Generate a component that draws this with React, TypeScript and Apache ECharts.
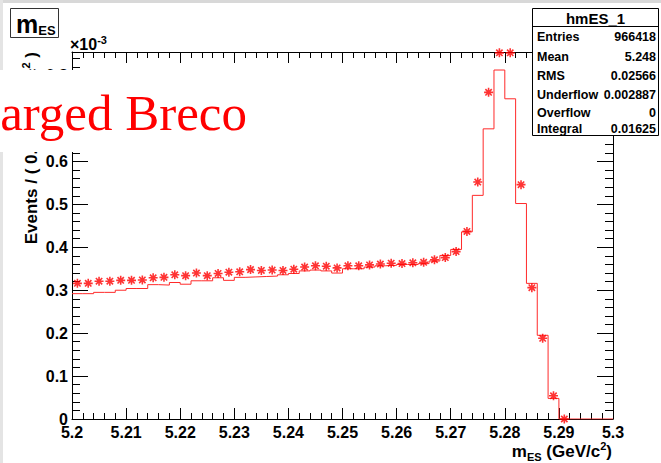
import React, { useEffect, useRef } from "react";
import * as echarts from "echarts";

// m_ES histogram, 50 bins of 0.002 GeV/c^2 from 5.20 to 5.30 (values in units of 1e-3)
const BIN_LO = 5.2;
const BIN_WIDTH = 0.002;

// solid step histogram
const histValues = [
  0.292, 0.292, 0.295, 0.295, 0.3, 0.304, 0.304, 0.313, 0.312, 0.318,
  0.314, 0.322, 0.322, 0.329, 0.323, 0.33, 0.331, 0.332, 0.333, 0.336,
  0.339, 0.345, 0.347, 0.345, 0.34, 0.35, 0.35, 0.354, 0.357, 0.358,
  0.36, 0.36, 0.362, 0.368, 0.381, 0.395, 0.436, 0.521, 0.676, 0.813,
  0.746, 0.502, 0.316, 0.195, 0.048, 0, 0, 0, 0, 0,
];

// star markers, one per bin from 5.201 to 5.291
const markerValues = [
  0.316, 0.316, 0.321, 0.321, 0.323, 0.323, 0.324, 0.329, 0.33, 0.336,
  0.334, 0.34, 0.334, 0.339, 0.342, 0.343, 0.348, 0.346, 0.347, 0.346,
  0.349, 0.354, 0.357, 0.356, 0.352, 0.357, 0.357, 0.359, 0.361, 0.363,
  0.362, 0.364, 0.365, 0.371, 0.376, 0.39, 0.437, 0.552, 0.761, 0.853,
  0.853, 0.546, 0.306, 0.188, 0.054, 0.0,
];

const statsTitle = "hmES_1";
const statsLabels = ["Entries", "Mean", "RMS", "Underflow", "Overflow", "Integral"];
const statsValues = ["966418", "5.248", "0.02566", "0.002887", "0", "0.01625"];

const X_MIN = 5.2;
const X_MAX = 5.3;
const X_STEP = 0.01;
const Y_MIN = 0;
const Y_MAX = 0.855;
const Y_STEP = 0.1;

const SANS = "'Liberation Sans', Arial, Helvetica, sans-serif";
const SERIF = "'Liberation Serif', 'Times New Roman', serif";

const STAR =
  "path://M5 0L5 10M0 5L10 5M1.46 1.46L8.54 8.54M1.46 8.54L8.54 1.46";

export default function App() {
  const ref = useRef<HTMLDivElement>(null);

  useEffect(() => {
    if (!ref.current) return;
    const chart = echarts.init(ref.current, undefined, { renderer: "svg" });

    const stepData: [number, number][] = histValues.map((v, i) => [
      +(BIN_LO + i * BIN_WIDTH).toFixed(4),
      v,
    ]);
    stepData.push([
      +(BIN_LO + histValues.length * BIN_WIDTH).toFixed(4),
      histValues[histValues.length - 1],
    ]);
    const pointData: [number, number][] = markerValues.map((v, i) => [
      +(BIN_LO + (i + 0.5) * BIN_WIDTH).toFixed(4),
      v,
    ]);

    const axisLine = { show: true, onZero: false, lineStyle: { color: "#000", width: 1 } };
    const labelStyle = {
      color: "#000",
      fontFamily: SANS,
      fontWeight: "bold" as const,
      fontSize: 16,
    };

    const xBase = (pos: "bottom" | "top", labels: boolean) => ({
      type: "value" as const,
      position: pos,
      min: X_MIN,
      max: X_MAX,
      interval: X_STEP,
      axisLine,
      splitLine: { show: false },
      axisTick: { show: true, inside: true, length: 11, lineStyle: { color: "#000" } },
      minorTick: { show: true, splitNumber: 5, length: 6, lineStyle: { color: "#000" } },
      axisLabel: {
        show: labels,
        margin: 5,
        ...labelStyle,
        formatter: (v: number) => String(Number(v.toFixed(3))),
      },
    });
    const yBase = (pos: "left" | "right", labels: boolean) => ({
      type: "value" as const,
      position: pos,
      min: Y_MIN,
      max: Y_MAX,
      interval: Y_STEP,
      axisLine,
      splitLine: { show: false },
      axisTick: { show: true, inside: true, length: 16, lineStyle: { color: "#000" } },
      minorTick: { show: true, splitNumber: 5, length: 8, lineStyle: { color: "#000" } },
      axisLabel: {
        show: labels,
        margin: 4,
        showMaxLabel: false,
        ...labelStyle,
        formatter: (v: number) => String(Number(v.toFixed(2))),
      },
    });

    const graphics: any[] = [
      // pad border
      { type: "rect", shape: { x: 0, y: 0, width: 661, height: 3 }, style: { fill: "#d8d8d8" }, z: 50 },
      { type: "rect", shape: { x: 0, y: 0, width: 3, height: 463 }, style: { fill: "#e4e4e4" }, z: 50 },
      // histogram title box
      {
        type: "rect",
        shape: { x: 10.5, y: 8.5, width: 48, height: 29 },
        style: { fill: "#fff", stroke: "#333", lineWidth: 1 },
        z: 50,
      },
      {
        type: "text",
        x: 16,
        y: 24,
        z: 51,
        style: {
          text: "{m|m}{s|ES}",
          align: "left",
          textAlign: "left",
          verticalAlign: "middle",
          textVerticalAlign: "middle",
          rich: {
            m: { fontFamily: SANS, fontWeight: "bold", fontSize: 25, fill: "#000", lineHeight: 26 },
            s: { fontFamily: SANS, fontWeight: "bold", fontSize: 13, fill: "#000", verticalAlign: "bottom", lineHeight: 14, padding: [8, 0, 0, 0] },
          },
        },
      },
      // axis exponent
      {
        type: "text",
        x: 70,
        y: 44,
        z: 51,
        style: {
          text: "{a|\u00d710}{b|-3}",
          align: "left",
          textAlign: "left",
          verticalAlign: "middle",
          textVerticalAlign: "middle",
          rich: {
            a: { fontFamily: SANS, fontWeight: "bold", fontSize: 16, fill: "#000", lineHeight: 20 },
            b: { fontFamily: SANS, fontWeight: "bold", fontSize: 11, fill: "#000", verticalAlign: "top", lineHeight: 11 },
          },
        },
      },
      // y axis title
      {
        type: "text",
        x: 31,
        y: 52,
        rotation: Math.PI / 2,
        z: 51,
        style: {
          text: "{a|Events / ( 0.002 GeV/c}{b|2}{a| )}",
          align: "right",
          textAlign: "right",
          verticalAlign: "middle",
          textVerticalAlign: "middle",
          rich: {
            a: { fontFamily: SANS, fontWeight: "bold", fontSize: 17, fill: "#000", lineHeight: 22 },
            b: { fontFamily: SANS, fontWeight: "bold", fontSize: 11, fill: "#000", verticalAlign: "top", lineHeight: 11 },
          },
        },
      },
      // x axis title
      {
        type: "text",
        x: 612,
        y: 451,
        z: 51,
        style: {
          text: "{a|m}{s|ES}{a| (GeV/c}{p|2}{a|)}",
          align: "right",
          textAlign: "right",
          verticalAlign: "middle",
          textVerticalAlign: "middle",
          rich: {
            a: { fontFamily: SANS, fontWeight: "bold", fontSize: 17, fill: "#000", lineHeight: 22 },
            s: { fontFamily: SANS, fontWeight: "bold", fontSize: 11, fill: "#000", verticalAlign: "bottom", lineHeight: 11, padding: [6, 0, 0, 0] },
            p: { fontFamily: SANS, fontWeight: "bold", fontSize: 11, fill: "#000", verticalAlign: "top", lineHeight: 11 },
          },
        },
      },
      // statistics box
      {
        type: "rect",
        shape: { x: 532.5, y: 8.5, width: 126, height: 127 },
        style: { fill: "#fff", stroke: "#000", lineWidth: 1 },
        z: 50,
      },
      {
        type: "line",
        shape: { x1: 532.5, y1: 26.5, x2: 658.5, y2: 26.5 },
        style: { stroke: "#000", lineWidth: 1 },
        z: 51,
      },
      {
        type: "text",
        x: 595.5,
        y: 18,
        z: 51,
        style: {
          text: statsTitle,
          font: `bold 15px ${SANS}`,
          fill: "#000",
          align: "center",
          textAlign: "center",
          verticalAlign: "middle",
          textVerticalAlign: "middle",
        },
      },
      // banner
      {
        type: "rect",
        shape: { x: 0, y: 70, width: 271, height: 82 },
        style: { fill: "#fff" },
        z: 60,
      },
      {
        type: "text",
        x: 247,
        y: 113,
        z: 61,
        style: {
          text: "Charged Breco",
          font: `51px ${SERIF}`,
          fill: "#ff0000",
          align: "right",
          textAlign: "right",
          verticalAlign: "middle",
          textVerticalAlign: "middle",
        },
      },
    ];

    const rowY = [37, 57, 76, 95, 113, 129];
    statsLabels.forEach((lab, i) => {
      graphics.push({
        type: "text",
        x: 537,
        y: rowY[i],
        z: 51,
        style: {
          text: lab,
          font: `bold 12.5px ${SANS}`,
          fill: "#000",
          align: "left",
          textAlign: "left",
          verticalAlign: "middle",
          textVerticalAlign: "middle",
        },
      });
      graphics.push({
        type: "text",
        x: 656,
        y: rowY[i],
        z: 51,
        style: {
          text: statsValues[i],
          font: `bold 12.5px ${SANS}`,
          fill: "#000",
          align: "right",
          textAlign: "right",
          verticalAlign: "middle",
          textVerticalAlign: "middle",
        },
      });
    });

    chart.setOption({
      animation: false,
      backgroundColor: "#fff",
      grid: {
        left: 72,
        right: 48,
        top: 52,
        bottom: 44,
        containLabel: false,
        outerBoundsMode: "none",
      },
      xAxis: [xBase("bottom", true), xBase("top", false)],
      yAxis: [yBase("left", true), yBase("right", false)],
      series: [
        {
          type: "line",
          xAxisIndex: 0,
          yAxisIndex: 0,
          step: "end",
          data: stepData,
          showSymbol: false,
          symbol: "none",
          lineStyle: { color: "#ff2a2a", width: 1 },
          z: 3,
        },
        {
          type: "scatter",
          xAxisIndex: 0,
          yAxisIndex: 0,
          data: pointData,
          symbol: STAR,
          symbolSize: 9,
          clip: false,
          itemStyle: { color: "none", borderColor: "#ff0000", borderWidth: 1.6 },
          z: 4,
        },
      ],
      graphic: graphics,
    });

    return () => chart.dispose();
  }, []);

  return (
    <div
      ref={ref}
      style={{ position: "fixed", left: 0, top: 0, width: 661, height: 463 }}
    />
  );
}
